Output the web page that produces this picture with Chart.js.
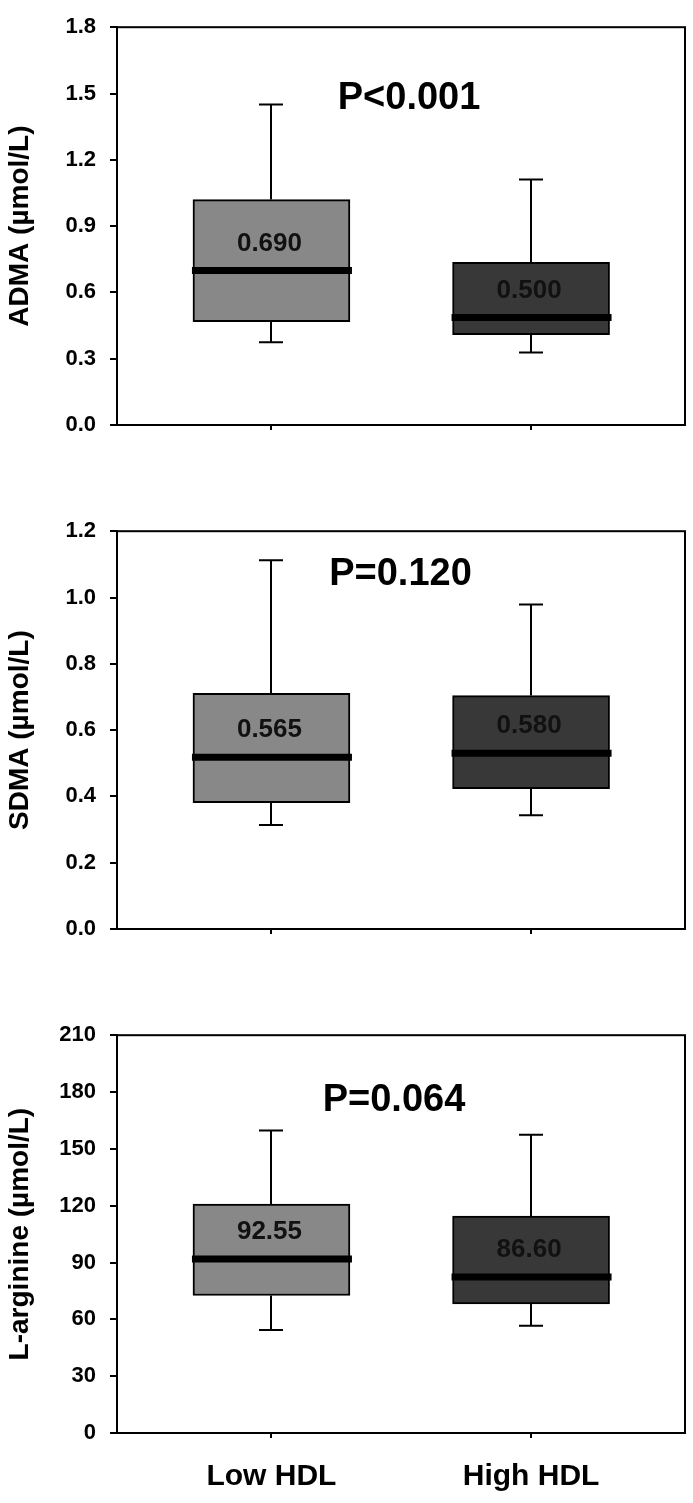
<!DOCTYPE html>
<html>
<head>
<meta charset="utf-8">
<script src="https://cdn.jsdelivr.net/npm/chart.js@4.4.1/dist/chart.umd.min.js"></script>
<style>
  html, body { margin: 0; padding: 0; background: #fff; }
  canvas { position: absolute; left: 0; }
</style>
</head>
<body>
<canvas id="adma" width="693" height="495" style="top:0"></canvas>
<canvas id="sdma" width="693" height="495" style="top:504px"></canvas>
<canvas id="arg" width="693" height="495" style="top:1008px"></canvas>
<script>
// groups
const categories = ['Low HDL', 'High HDL'];
const boxColors = ['#888888', '#383838'];

// ADMA (umol/L)
const admaMin = [0.375, 0.328];
const admaQ1 = [0.468, 0.409];
const admaMedian = [0.699, 0.486];
const admaQ3 = [1.02, 0.736];
const admaMax = [1.45, 1.111];
const admaLabels = ['0.690', '0.500'];

// SDMA (umol/L)
const sdmaMin = [0.314, 0.343];
const sdmaQ1 = [0.381, 0.423];
const sdmaMedian = [0.518, 0.530];
const sdmaQ3 = [0.711, 0.704];
const sdmaMax = [1.112, 0.979];
const sdmaLabels = ['0.565', '0.580'];

// L-arginine (umol/L)
const argMin = [54.4, 56.6];
const argQ1 = [72.6, 68.2];
const argMedian = [91.9, 82.4];
const argQ3 = [120.8, 114.5];
const argMax = [159.7, 157.4];
const argLabels = ['92.55', '86.60'];

// y axes
const admaTicks = { max: 1.8, step: 0.3, dec: 1 };
const sdmaTicks = { max: 1.2, step: 0.2, dec: 1 };
const argTicks = { max: 210, step: 30, dec: 0 };

const pValues = ['P<0.001', 'P=0.120', 'P=0.064'];

// draws whiskers, medians, median labels, frame and P value
const boxExtras = {
  id: 'boxExtras',
  beforeDatasetsDraw(chart, args, o) {
    const ctx = chart.ctx, x = chart.scales.x, y = chart.scales.y;
    ctx.save();
    ctx.strokeStyle = '#000';
    ctx.lineWidth = 2;
    o.min.forEach((v, i) => {
      const cx = Math.round(x.getPixelForValue(i + 1));
      [[o.q1[i], o.min[i]], [o.q3[i], o.max[i]]].forEach(([from, to]) => {
        const ye = y.getPixelForValue(to);
        ctx.beginPath();
        ctx.moveTo(cx, y.getPixelForValue(from));
        ctx.lineTo(cx, ye);
        ctx.moveTo(cx - 12, ye);
        ctx.lineTo(cx + 12, ye);
        ctx.stroke();
      });
    });
    ctx.restore();
  },
  afterDatasetsDraw(chart, args, o) {
    const ctx = chart.ctx, y = chart.scales.y;
    const bars = chart.getDatasetMeta(0).data;
    ctx.save();
    bars.forEach((bar, i) => {
      const ym = y.getPixelForValue(o.median[i]);
      ctx.strokeStyle = '#000';
      ctx.lineWidth = 7;
      ctx.beginPath();
      ctx.moveTo(bar.x - bar.width / 2 - 1, ym);
      ctx.lineTo(bar.x + bar.width / 2 + 2, ym);
      ctx.stroke();
      ctx.fillStyle = '#111';
      ctx.font = 'bold 26px "Liberation Sans", Arial, sans-serif';
      ctx.textAlign = 'center';
      ctx.textBaseline = 'middle';
      ctx.fillText(o.labels[i], bar.x - 2, ym - 27);
    });
    ctx.restore();
  },
  afterDraw(chart, args, o) {
    const ctx = chart.ctx, a = chart.chartArea;
    ctx.save();
    ctx.strokeStyle = '#000';
    ctx.lineWidth = 2;
    ctx.strokeRect(a.left, a.top, a.right - a.left, a.bottom - a.top);
    ctx.fillStyle = '#000';
    ctx.font = 'bold 38px "Liberation Sans", Arial, sans-serif';
    ctx.textAlign = 'center';
    ctx.textBaseline = 'middle';
    ctx.fillText(o.pText, chart.scales.x.getPixelForValue(o.pAt[0]), chart.scales.y.getPixelForValue(o.pAt[1]));
    ctx.restore();
  }
};

function makePanel(id, s, ticks, title, pText, pAt, showX) {
  new Chart(document.getElementById(id), {
    type: 'bar',
    data: {
      datasets: [{
        data: categories.map((c, i) => ({ x: i + 1, y: [s.q1[i], s.q3[i]] })),
        backgroundColor: boxColors,
        borderColor: '#000',
        borderWidth: 2,
        borderSkipped: false,
        barThickness: 157
      }]
    },
    options: {
      responsive: false,
      animation: false,
      layout: { padding: { top: 17, right: 8, left: 0, bottom: 0 } },
      plugins: {
        legend: { display: false },
        tooltip: { enabled: false },
        boxExtras: Object.assign({ pText: pText, pAt: pAt }, s)
      },
      scales: {
        x: {
          type: 'linear',
          offset: false,
          min: 0.405,
          max: 2.593,
          afterBuildTicks: sc => { sc.ticks = [{ value: 1 }, { value: 2 }]; },
          afterFit: sc => { sc.height = 70; },
          grid: { offset: false, drawOnChartArea: false, tickLength: 5, color: '#000', lineWidth: 2 },
          border: { color: '#000', width: 2 },
          ticks: {
            padding: 21,
            color: '#000',
            maxRotation: 0,
            autoSkip: false,
            font: { family: '"Liberation Sans", Arial, sans-serif', size: 30, weight: 'bold' },
            callback: (v) => showX ? categories[v - 1] : ''
          }
        },
        y: {
          min: 0,
          max: ticks.max,
          afterFit: sc => { sc.width = 117; },
          grid: { drawOnChartArea: false, tickLength: 7, color: '#000', lineWidth: 2 },
          border: { color: '#000', width: 2 },
          ticks: {
            stepSize: ticks.step,
            padding: 14,
            color: '#000',
            font: { family: '"Liberation Sans", Arial, sans-serif', size: 22, weight: 'bold' },
            callback: v => Number(v).toFixed(ticks.dec)
          },
          title: {
            display: true,
            text: title,
            color: '#000',
            padding: { top: 3, bottom: 0 },
            font: { family: '"Liberation Sans", Arial, sans-serif', size: 28, weight: 'bold' }
          }
        }
      }
    },
    plugins: [boxExtras]
  });
}

makePanel('adma',
  { min: admaMin, q1: admaQ1, median: admaMedian, q3: admaQ3, max: admaMax, labels: admaLabels },
  admaTicks, 'ADMA (\u00b5mol/L)', pValues[0], [1.53, 1.477], false);
makePanel('sdma',
  { min: sdmaMin, q1: sdmaQ1, median: sdmaMedian, q3: sdmaQ3, max: sdmaMax, labels: sdmaLabels },
  sdmaTicks, 'SDMA (\u00b5mol/L)', pValues[1], [1.497, 1.07], false);
makePanel('arg',
  { min: argMin, q1: argQ1, median: argMedian, q3: argQ3, max: argMax, labels: argLabels },
  argTicks, 'L-arginine (\u00b5mol/L)', pValues[2], [1.472, 175.7], true);
</script>
</body>
</html>
